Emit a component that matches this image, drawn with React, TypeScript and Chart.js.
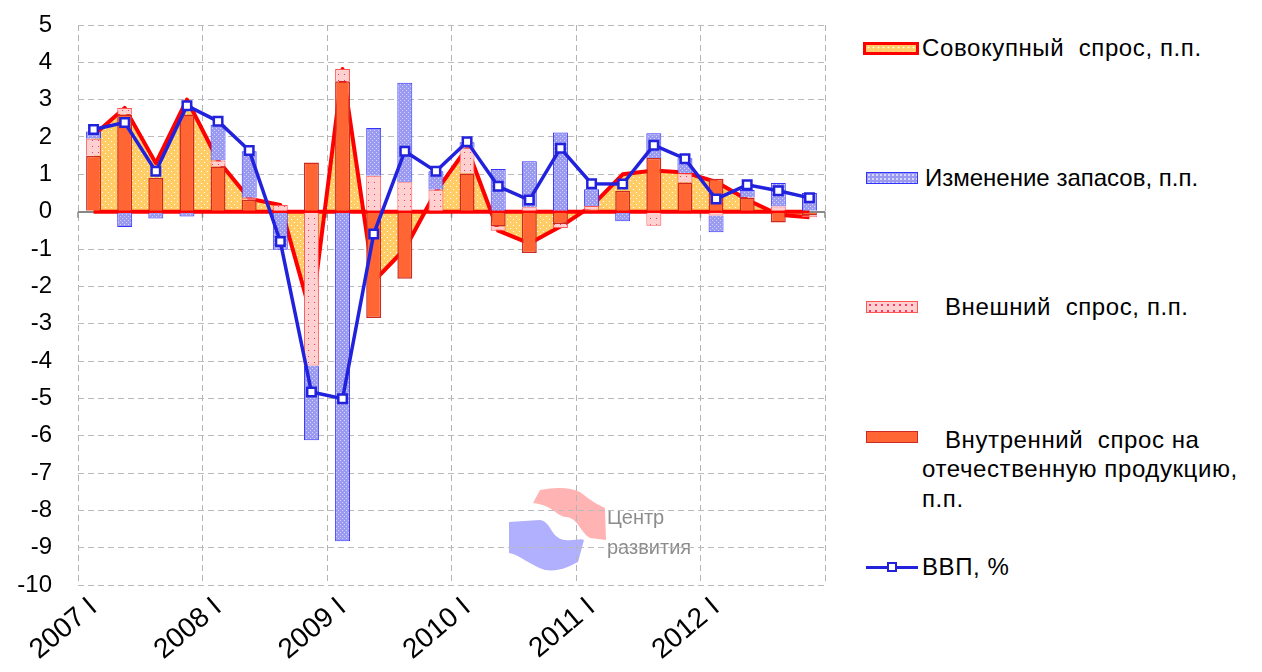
import React, { useEffect, useRef } from 'react';
import { Chart, registerables } from 'chart.js';

Chart.register(...registerables);

const quarters = [
  '2007 I', '2007 II', '2007 III', '2007 IV',
  '2008 I', '2008 II', '2008 III', '2008 IV',
  '2009 I', '2009 II', '2009 III', '2009 IV',
  '2010 I', '2010 II', '2010 III', '2010 IV',
  '2011 I', '2011 II', '2011 III', '2011 IV',
  '2012 I', '2012 II', '2012 III', '2012 IV',
];

const aggregateDemand = [2.05, 2.78, 1.3, 3.0, 1.37, 0.35, 0.18, -2.8, 3.82, -1.87, -1.0, 0.54, 1.71, -0.51, -0.85, -0.4, 0.15, 1.0, 1.1, 1.05, 0.8, 0.32, -0.08, -0.15];
const domesticDemand = [1.5, 2.6, 0.9, 2.6, 1.21, 0.32, 0.0, 1.32, 3.49, -2.85, -1.8, -0.05, 1.02, -0.4, -1.11, -0.33, 0.05, 0.56, 1.44, 0.78, 0.88, 0.38, -0.29, -0.1];
const externalDemand = [0.45, 0.18, 0.0, 0.0, 0.16, 0.05, 0.18, -4.12, 0.33, 0.96, 0.79, 0.59, 0.69, -0.11, 0.12, -0.11, 0.1, 0.0, -0.38, 0.25, -0.1, 0.0, 0.14, -0.05];
const inventoryChange = [0.2, -0.41, -0.18, -0.13, 0.96, 1.25, -1.02, -2.0, -8.83, 1.28, 2.66, 0.49, 0.15, 1.14, 1.23, 2.12, 0.45, -0.26, 0.66, 0.4, -0.45, 0.2, 0.63, 0.5];
const gdp = [2.2, 2.39, 1.08, 2.84, 2.42, 1.64, -0.8, -4.83, -5.01, -0.6, 1.62, 1.08, 1.87, 0.68, 0.31, 1.7, 0.75, 0.74, 1.78, 1.42, 0.34, 0.72, 0.56, 0.37];

const labelsText = {
  ad: 'Совокупный спрос, п.п.',
  inv: 'Изменение запасов, п.п.',
  ext: 'Внешний спрос, п.п.',
  dom: 'Внутренний спрос на отечественную продукцию, п.п.',
  gdp: 'ВВП, %',
};

const FONT = "'Liberation Sans', Arial, sans-serif";

function makePattern(
  ctx: CanvasRenderingContext2D,
  base: string,
  dot: string,
  size: number,
  dots: [number, number][],
  r: number
) {
  const c = document.createElement('canvas');
  c.width = size;
  c.height = size;
  const g = c.getContext('2d')!;
  g.fillStyle = base;
  g.fillRect(0, 0, size, size);
  g.fillStyle = dot;
  for (const [x, y] of dots) g.fillRect(x, y, r, r);
  return ctx.createPattern(c, 'repeat') as CanvasPattern;
}

const watermarkPlugin = {
  id: 'watermark',
  beforeDraw(chart: any) {
    const c = chart.ctx as CanvasRenderingContext2D;
    c.save();
    c.fillStyle = 'rgba(255,160,160,0.8)';
    c.beginPath();
    c.moveTo(533, 503);
    c.lineTo(540, 490);
    c.quadraticCurveTo(565, 485, 580, 492);
    c.bezierCurveTo(590, 500, 598, 505, 605, 508);
    c.lineTo(606, 540);
    c.lineTo(590, 538);
    c.bezierCurveTo(580, 532, 578, 518, 566, 517);
    c.bezierCurveTo(556, 516, 553, 505, 533, 503);
    c.closePath();
    c.fill();
    c.fillStyle = 'rgba(150,150,255,0.75)';
    c.beginPath();
    c.moveTo(509, 522);
    c.lineTo(540, 520);
    c.bezierCurveTo(552, 522, 550, 538, 565, 540);
    c.bezierCurveTo(575, 541, 580, 538, 584, 540);
    c.lineTo(578, 562);
    c.bezierCurveTo(570, 566, 560, 572, 545, 570);
    c.bezierCurveTo(530, 565, 520, 555, 509, 553);
    c.closePath();
    c.fill();
    c.fillStyle = '#8c8c8c';
    c.font = `20px ${FONT}`;
    c.textBaseline = 'middle';
    c.fillText('Центр', 607, 518);
    c.fillText('развития', 607, 548);
    c.restore();
  },
};

const axisMarksPlugin = {
  id: 'axisMarks',
  beforeDatasetsDraw(chart: any) {
    const x = chart.scales.x;
    const y = chart.scales.y;
    const c = chart.ctx as CanvasRenderingContext2D;
    const y0 = y.getPixelForValue(0);
    c.save();
    c.strokeStyle = '#888';
    c.lineWidth = 1.5;
    for (let i = 0; i <= quarters.length; i += 4) {
      const px = x.getPixelForValue(i - 0.5);
      c.beginPath();
      c.moveTo(px, y0);
      c.lineTo(px, y0 + 6);
      c.stroke();
    }
    c.restore();
  },
  afterDatasetDraw(chart: any, args: any) {
    if (args.index !== 0) return;
    const x = chart.scales.x;
    const y = chart.scales.y;
    const c = chart.ctx as CanvasRenderingContext2D;
    const y0 = y.getPixelForValue(0);
    c.save();
    c.strokeStyle = '#FF0000';
    c.lineWidth = 4;
    c.beginPath();
    c.moveTo(x.getPixelForValue(0), y0);
    c.lineTo(x.getPixelForValue(quarters.length - 1), y0);
    c.stroke();
    c.restore();
  },
};

export default function App() {
  const ref = useRef<HTMLCanvasElement>(null);

  useEffect(() => {
    const canvas = ref.current!;
    const ctx = canvas.getContext('2d')!;
    const patAD = makePattern(ctx, '#FFCC66', '#FFFFFF', 6, [[0, 0], [3, 3]], 1);
    const patExt = makePattern(ctx, '#FFD0D0', '#FF3366', 6, [[2, 2]], 1);
    const patInv = makePattern(ctx, '#9A9AF0', '#D4D4FF', 4, [[0, 0], [2, 2]], 1);

    const chart = new Chart(ctx, {
      type: 'bar',
      data: {
        labels: quarters,
        datasets: [
          {
            type: 'line',
            label: labelsText.ad,
            data: aggregateDemand,
            borderColor: '#FF0000',
            borderWidth: 4,
            borderJoinStyle: 'round',
            backgroundColor: patAD,
            fill: 'origin',
            pointRadius: 0,
            tension: 0,
            stack: 'ad',
            order: 3,
          } as any,
          {
            label: labelsText.dom,
            data: domesticDemand,
            backgroundColor: '#FF6633',
            borderColor: '#CC2A22',
            borderWidth: 1.5,
            barPercentage: 0.48,
            categoryPercentage: 1,
            order: 2,
          },
          {
            label: labelsText.ext,
            data: externalDemand,
            backgroundColor: patExt,
            borderColor: '#FF5555',
            borderWidth: 1,
            barPercentage: 0.48,
            categoryPercentage: 1,
            order: 2,
          },
          {
            label: labelsText.inv,
            data: inventoryChange,
            backgroundColor: patInv,
            borderColor: '#3333FF',
            borderWidth: 1,
            barPercentage: 0.48,
            categoryPercentage: 1,
            order: 2,
          },
          {
            type: 'line',
            label: labelsText.gdp,
            data: gdp,
            borderColor: '#2222DD',
            borderWidth: 3.5,
            fill: false,
            tension: 0,
            pointStyle: 'rect',
            pointRadius: 6,
            pointBorderWidth: 2.5,
            pointBackgroundColor: '#FFFFFF',
            pointBorderColor: '#2222DD',
            stack: 'gdp',
            order: 1,
          } as any,
        ],
      },
      options: {
        responsive: false,
        animation: false,
        layout: { padding: { top: 25, right: 15, left: 0, bottom: 0 } },
        plugins: {
          legend: { display: false },
          tooltip: { enabled: false },
        },
        scales: {
          x: {
            stacked: true,
            offset: true,
            afterFit: (s: any) => {
              s.height = 87;
            },
            grid: {
              offset: true,
              drawTicks: false,
              color: (c: any) =>
                c.index === undefined || c.index % 4 === 0 ? '#B4B4B4' : 'rgba(0,0,0,0)',
              lineWidth: 1,
            },
            border: { display: false, dash: [6, 4] },
            ticks: {
              autoSkip: false,
              maxRotation: 40,
              minRotation: 40,
              padding: 6,
              color: '#000',
              font: { family: FONT, size: 28 },
              callback: (_v: any, i: number) => (quarters[i].endsWith(' I') ? quarters[i] : ''),
            },
          },
          y: {
            stacked: true,
            min: -10,
            max: 5,
            afterFit: (s: any) => {
              s.width = 78;
              s.paddingTop = 0;
              s.paddingBottom = 0;
            },
            ticks: {
              stepSize: 1,
              padding: 26,
              color: '#000',
              font: { family: FONT, size: 24 },
            },
            grid: {
              drawTicks: false,
              color: (c: any) => (c.tick && c.tick.value === 0 ? '#888888' : '#BBBBBB'),
              lineWidth: (c: any) => (c.tick && c.tick.value === 0 ? 2 : 1),
            },
            border: {
              display: false,
              dash: (c: any) => (c.tick && c.tick.value === 0 ? [] : [6, 4]),
            },
          },
        },
      } as any,
      plugins: [watermarkPlugin, axisMarksPlugin],
    });
    return () => chart.destroy();
  }, []);

  const text: React.CSSProperties = {
    position: 'absolute',
    fontFamily: FONT,
    fontSize: 24,
    color: '#000',
    whiteSpace: 'pre',
    lineHeight: '30px',
    height: 30,
    letterSpacing: '0.6px',
  };
  const sw: React.CSSProperties = { position: 'absolute', boxSizing: 'border-box' };

  return (
    <div
      style={{
        position: 'fixed',
        left: 0,
        top: 0,
        width: 1262,
        height: 672,
        background: '#fff',
        overflow: 'hidden',
      }}
    >
      <canvas ref={ref} width={840} height={672} style={{ position: 'absolute', left: 0, top: 0 }} />
      {/* legend */}
      <div
        style={{
          ...sw,
          left: 863,
          top: 42,
          width: 56,
          height: 13,
          border: '3px solid #FF0000',
          backgroundColor: '#FFCC66',
          backgroundImage: 'radial-gradient(circle, #fff 0.8px, transparent 1.1px)',
          backgroundSize: '5px 5px',
        }}
      />
      <div style={{ ...text, left: 922, top: 33 }}>Совокупный  спрос, п.п.</div>

      <div
        style={{
          ...sw,
          left: 866,
          top: 172,
          width: 52,
          height: 12,
          border: '1px solid #3333FF',
          backgroundColor: '#9A9AF0',
          backgroundImage: 'radial-gradient(circle, #D8D8FF 0.8px, transparent 1.1px)',
          backgroundSize: '4px 4px',
        }}
      />
      <div style={{ ...text, left: 925, top: 163, letterSpacing: 0 }}>Изменение запасов, п.п.</div>

      <div
        style={{
          ...sw,
          left: 866,
          top: 301,
          width: 52,
          height: 12,
          border: '1px solid #FF5555',
          backgroundColor: '#FFD0D0',
          backgroundImage: 'radial-gradient(circle, #FF3366 0.7px, transparent 1px)',
          backgroundSize: '6px 6px',
        }}
      />
      <div style={{ ...text, left: 945, top: 292 }}>Внешний  спрос, п.п.</div>

      <div
        style={{
          ...sw,
          left: 866,
          top: 431,
          width: 52,
          height: 12,
          border: '1.5px solid #CC2A22',
          backgroundColor: '#FF6633',
        }}
      />
      <div style={{ ...text, left: 945, top: 425 }}>Внутренний  спрос на</div>
      <div style={{ ...text, left: 922, top: 454 }}>отечественную продукцию,</div>
      <div style={{ ...text, left: 922, top: 484 }}>п.п.</div>

      <div style={{ ...sw, left: 866, top: 566, width: 52, height: 3, background: '#2222DD' }} />
      <div
        style={{
          ...sw,
          left: 887,
          top: 562,
          width: 10,
          height: 10,
          border: '2.5px solid #2222DD',
          background: '#fff',
        }}
      />
      <div style={{ ...text, left: 922, top: 552 }}>ВВП, %</div>
    </div>
  );
}
